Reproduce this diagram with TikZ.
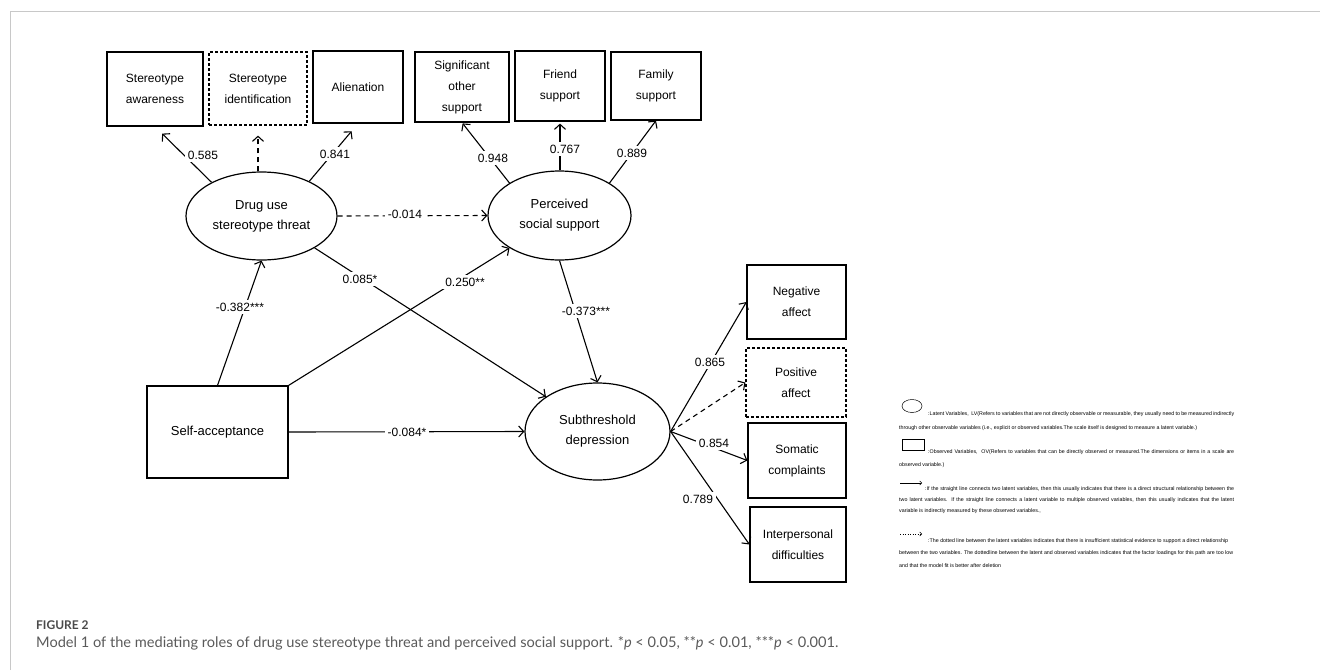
\documentclass[tikz,border=0pt]{standalone}
\usepackage{fontspec}
\setmainfont{Liberation Sans}
\newfontfamily\capfont{Lato}
\usetikzlibrary{shapes.geometric,arrows.meta,calc}
\definecolor{framegray}{HTML}{C8C8C8}
\definecolor{capgray}{HTML}{5A5A5A}
\definecolor{figgray}{HTML}{4A4A4A}
\tikzset{
 box/.style={draw, line width=1.2pt, align=center, font=\fontsize{12}{21}\selectfont, inner sep=0pt},
 dbox/.style={box, dash pattern=on 3pt off 2pt},
 lat/.style={draw, ellipse, line width=1.2pt, align=center, font=\fontsize{13}{20}\selectfont, inner sep=0pt},
 arr/.style={line width=1.1pt, -{Straight Barb[length=5pt,width=11pt]}},
 darr/.style={arr, dash pattern=on 5pt off 4pt},
 lab/.style={fill=white, font=\fontsize{12}{14}\selectfont, inner sep=3pt},
 legtxt/.style={anchor=west, inner sep=0pt, font=\fontsize{5.3}{6}\selectfont},
}
\newcommand{\lline}[2]{\makebox[#1pt][s]{#2}}
\begin{document}
\begin{tikzpicture}[x=1pt,y=-1pt]
\useasboundingbox (0,0) rectangle (1320,670);
\draw[framegray, line width=1pt] (10,670) -- (10,11) -- (1320,11);

% observed boxes top
\node[box, minimum width=96pt, minimum height=74pt] (sa) at (155,89) {Stereotype\\awareness};
\node[dbox, minimum width=98pt, minimum height=73pt] (si) at (258,88.5) {Stereotype\\identification};
\node[box, minimum width=90pt, minimum height=72pt] (al) at (358,87) {Alienation};
\node[box, minimum width=94pt, minimum height=70pt] (so) at (462,87) {Significant\\other\\support};
\node[box, minimum width=90pt, minimum height=70pt] (fr) at (560,86) {Friend\\support};
\node[box, minimum width=90pt, minimum height=68pt] (fa) at (656,86) {Family\\support};

% right boxes
\node[box, minimum width=99pt, minimum height=74pt] (na) at (796.5,302) {Negative\\affect};
\node[dbox, minimum width=100pt, minimum height=69pt] (pa) at (796,382.5) {Positive\\affect};
\node[box, minimum width=98pt, minimum height=75pt] (sc) at (797,460.5) {Somatic\\complaints};
\node[box, minimum width=96pt, minimum height=75pt] (id) at (798,544.5) {Interpersonal\\difficulties};

% self-acceptance
\node[box, font=\fontsize{13}{20}\selectfont, minimum width=141pt, minimum height=92pt] (selfa) at (217.5,432) {Self-acceptance};

% latent
\node[lat, minimum width=151pt, minimum height=88pt] (drug) at (261.5,216) {Drug use\\stereotype threat};
\node[lat, minimum width=143pt, minimum height=89pt] (perc) at (559.5,215.5) {Perceived\\social support};
\node[lat, minimum width=145pt, minimum height=97pt] (sub) at (597.5,431.5) {Subthreshold\\depression};

% measurement arrows
\draw[arr, shorten >=10pt] (drug.146) -- (sa.south);
\draw[darr, shorten >=10pt] (si.south |- drug.north) -- (si.south);
\draw[arr, shorten >=10pt] (drug.36) -- (al.south);
\draw[arr, shorten >=1pt] (perc.147) -- (so.south);
\draw[arr, shorten >=2pt] (fr.south |- perc.north) -- (fr.south);
\draw[arr] (perc.33) -- (fa.south);
\draw[arr] (sub.east) -- (na.west);
\draw[darr] (sub.east) -- (pa.west);
\draw[arr] (sub.east) -- (sc.west);
\draw[arr] (sub.east) -- (id.west);

% structural arrows
\draw[darr] (drug.east) -- (perc.west);
\draw[arr] (selfa.north) -- (drug.south);
\draw[arr] (selfa.north east) -- (perc.213);
\draw[arr] (drug.-31.5) -- (sub.146.7);
\draw[arr] (perc.south) -- (sub.north);
\draw[arr] (selfa.east) -- (sub.west);

% labels
\node[lab] (l1) at (203,155) {0.585};
\node[lab] (l2) at (335,154) {0.841};
\node[lab] (l3) at (493,158) {0.948};
\node[lab] (l4) at (565,149) {0.767};
\node[lab] (l5) at (632,153) {0.889};
\node[lab] (l6) at (405,214) {-0.014};
\node[lab] (l7) at (240,307) {-0.382***};
\node[lab] (l8) at (360,279) {0.085*};
\node[lab] (l9) at (465,282) {0.250**};
\node[lab] (l10) at (586,311) {-0.373***};
\node[lab] (l11) at (407,432) {-0.084*};
\node[lab] (l12) at (710,362) {0.865};
\node[lab] (l13) at (714,443) {0.854};
\node[lab] (l14) at (698,499) {0.789};

% legend
\node[draw, ellipse, line width=0.5pt, minimum width=20pt, minimum height=13pt, inner sep=0pt] (lgE) at (912,406) {};
\node[draw, line width=0.5pt, minimum width=22pt, minimum height=11pt, inner sep=0pt] (lgR) at (913,444.5) {};
\coordinate (la1) at (900,483); \coordinate (la2) at (922,483);
\coordinate (ld1) at (900,534); \coordinate (ld2) at (922,534);
\draw[line width=0.5pt, -{Straight Barb[length=2pt,width=4pt]}] (la1) -- (la2);
\draw[line width=0.5pt, dotted, -{Straight Barb[length=2pt,width=4pt]}] (ld1) -- (ld2);
\node[legtxt] (t1) at (928,414) {\lline{306}{:Latent Variables,\ \ LV(Refers to variables that are not directly observable or measurable, they usually need to be measured indirectly}};
\node[legtxt] (t2) at (899,428) {\lline{298}{through other observable variables (i.e., explicit or observed variables.The scale itself is designed to measure a latent variable.)}};
\node[legtxt] (t3) at (928,452) {\lline{306}{:Observed Variables,\ \ OV(Refers to variables that can be directly observed or measured.The dimensions or items in a scale are}};
\node[legtxt] (t4) at (899,465) {observed variable.)};
\node[legtxt] (t5) at (925,489) {\lline{309}{:If the straight line connects two latent variables, then this usually indicates that there is a direct structural relationship between the}};
\node[legtxt] (t6) at (899,500) {\lline{335}{two latent variables. If the straight line connects a latent variable to multiple observed variables, then this usually indicates that the latent}};
\node[legtxt] (t7) at (899,511) {variable is indirectly measured by these observed variables.,};
\node[legtxt] (t8) at (928,541) {\lline{300}{:The dotted line between the latent variables indicates that there is insufficient statistical evidence to support a direct relationship}};
\node[legtxt] (t9) at (899,553) {\lline{334}{between the two variables. The dottedline between the latent and observed variables indicates that the factor loadings for this path are too low}};
\node[legtxt] (t10) at (899,566) {and that the model fit is better after deletion};

% caption
\node[anchor=base west, inner sep=0pt, text=figgray, font=\capfont\bfseries\fontsize{12}{14}\selectfont] (fig) at (36,629.5) {FIGURE 2};
\node[anchor=base west, inner sep=0pt, text=capgray, font=\capfont\fontsize{14.6}{18}\selectfont] (cap) at (36,647) {Model 1 of the mediating roles of drug use stereotype threat and perceived social support. *\textit{p} < 0.05, **\textit{p} < 0.01, ***\textit{p} < 0.001.};
\end{tikzpicture}
\end{document}
